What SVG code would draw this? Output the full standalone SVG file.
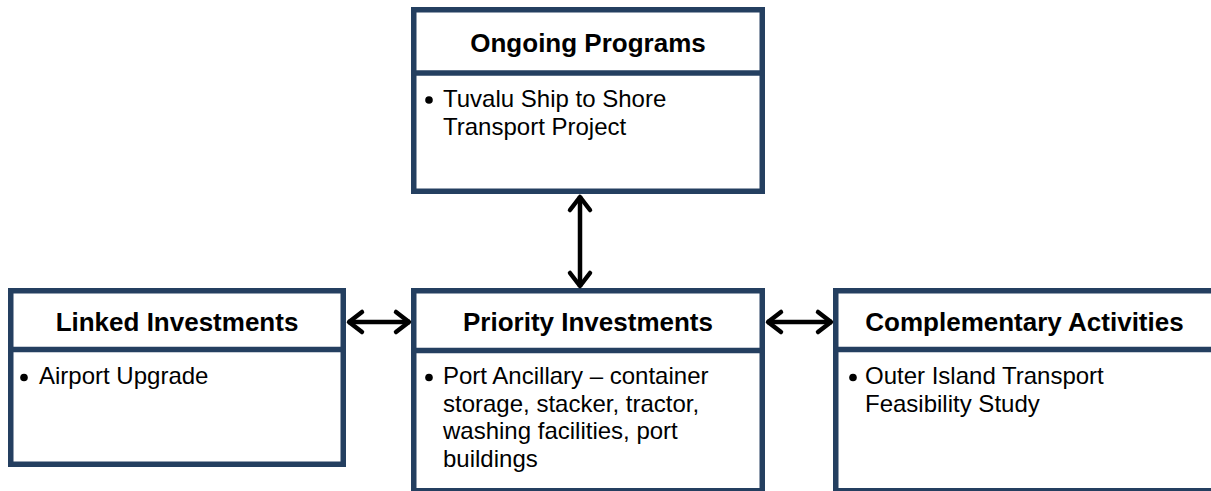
<svg xmlns="http://www.w3.org/2000/svg" width="1211" height="491" viewBox="0 0 1211 491">
  <style>
    .box { fill: #ffffff; stroke: #243F60; stroke-width: 5.5; }
    .div { stroke: #243F60; stroke-width: 5.5; }
    .title { font-family: "Liberation Sans", Arial, sans-serif; font-weight: bold; font-size: 26px; fill: #000; text-anchor: middle; }
    .body { font-family: "Liberation Sans", Arial, sans-serif; font-size: 24px; fill: #000; }
    .conn { stroke: #000; stroke-width: 4.5; fill: none; }
  </style>
  <defs>
    <marker id="chev" markerUnits="userSpaceOnUse" viewBox="-20 -15 25 30" refX="0" refY="0" markerWidth="25" markerHeight="30" orient="auto-start-reverse" overflow="visible">
      <path d="M -14 -10 L -1 0 L -14 10" fill="none" stroke="#000" stroke-width="4.5" stroke-linecap="round" stroke-linejoin="round"/>
    </marker>
  </defs>
  <rect width="1211" height="491" fill="#ffffff"/>

  <g id="ongoing-programs">
    <rect class="box" x="413.75" y="9.75" width="348.5" height="181.5"/>
    <line class="div" x1="411" y1="73" x2="765" y2="73"/>
    <text class="title" x="588" y="52">Ongoing Programs</text>
    <circle cx="429" cy="100" r="3.8" fill="#000"/>
    <text class="body" x="443" y="107">Tuvalu Ship to Shore</text>
    <text class="body" x="443" y="134.5">Transport Project</text>
  </g>

  <g id="linked-investments">
    <rect class="box" x="10.75" y="290.75" width="332.5" height="173.5"/>
    <line class="div" x1="8" y1="349.5" x2="346" y2="349.5"/>
    <text class="title" x="177" y="331">Linked Investments</text>
    <circle cx="24" cy="377.5" r="3.8" fill="#000"/>
    <text class="body" x="39" y="384">Airport Upgrade</text>
  </g>

  <g id="priority-investments">
    <rect class="box" x="413.75" y="290.75" width="348.5" height="200"/>
    <line class="div" x1="411" y1="350.5" x2="765" y2="350.5"/>
    <text class="title" x="588" y="331">Priority Investments</text>
    <circle cx="429" cy="377.5" r="3.8" fill="#000"/>
    <text class="body" x="443" y="384">Port Ancillary – container</text>
    <text class="body" x="443" y="411.5">storage, stacker, tractor,</text>
    <text class="body" x="443" y="439">washing facilities, port</text>
    <text class="body" x="443" y="466.5">buildings</text>
  </g>

  <g id="complementary-activities">
    <rect class="box" x="835.75" y="290.75" width="420" height="200"/>
    <line class="div" x1="833" y1="349.5" x2="1220" y2="349.5"/>
    <text class="title" x="1024.5" y="331">Complementary Activities</text>
    <circle cx="853" cy="377.5" r="3.8" fill="#000"/>
    <text class="body" x="865" y="384">Outer Island Transport</text>
    <text class="body" x="865" y="411.5">Feasibility Study</text>
  </g>

  <g id="connectors">
    <line class="conn" x1="580" y1="196" x2="580" y2="287" marker-start="url(#chev)" marker-end="url(#chev)"/>
    <line class="conn" x1="348" y1="322" x2="410" y2="322" marker-start="url(#chev)" marker-end="url(#chev)"/>
    <line class="conn" x1="767" y1="322" x2="832" y2="322" marker-start="url(#chev)" marker-end="url(#chev)"/>
  </g>
</svg>
